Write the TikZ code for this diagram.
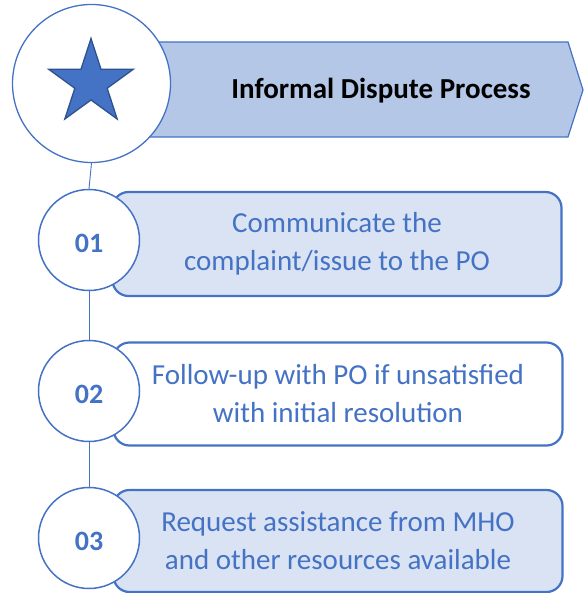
\documentclass[tikz,border=0pt]{standalone}
\usepackage{fontspec}
\setmainfont{Carlito}
\usetikzlibrary{shapes.geometric}
\definecolor{obl}{HTML}{4472C4}
\definecolor{banfill}{HTML}{B4C7E7}
\definecolor{boxfill}{HTML}{DAE3F3}
\definecolor{stardark}{HTML}{2F528F}
\tikzset{
  banner/.style={fill=banfill, draw=obl, line width=1.2pt},
  stepbox/.style={draw=obl, line width=2.2pt, rounded corners=16pt, minimum width=449pt,
    minimum height=103pt, inner sep=0pt, align=center, text=obl,
    font=\fontsize{29}{38}\selectfont},
  bigcirc/.style={circle, draw=obl, fill=white, line width=1.3pt, minimum size=158pt, inner sep=0pt},
  smallcirc/.style={circle, draw=obl, fill=white, line width=1.5pt, minimum size=101pt, inner sep=0pt},
  numtext/.style={text=obl, font=\bfseries\fontsize{28}{30}\selectfont, inner sep=0pt},
  link/.style={draw=obl, line width=0.9pt}
}
\begin{document}
\begin{tikzpicture}[x=1pt,y=-1pt]
\useasboundingbox (0,0) rectangle (584,593);
% banner
\draw[banner] (140,42) -- (568,42) -- (583,90) -- (568,137) -- (140,137) -- cycle;
\node[font=\bfseries\fontsize{29}{34}\selectfont, text=black] (title) at (381,91) {Informal Dispute Process};
% step boxes
\node[stepbox, fill=boxfill, minimum height=104pt] (b1) at (337,244) {Communicate the\\complaint/issue to the PO};
\node[stepbox, fill=white] (b2) at (338,394) {Follow-up with PO if unsatisfied\\with initial resolution};
\node[stepbox, fill=boxfill, minimum height=102pt] (b3) at (338,541) {Request assistance from MHO\\and other resources available};
% circles
\node[bigcirc] (c0) at (91.5,83.5) {};
\node[star, star points=5, star point ratio=2.618, minimum size=89pt, inner sep=0pt,
      fill=obl, draw=stardark, line width=1.3pt] (st) at (91,83) {};
\node[smallcirc] (c1) at (89,240) {};
\node[smallcirc] (c2) at (89,391) {};
\node[smallcirc] (c3) at (89,538) {};
\node[numtext] (n1) at (89,243) {01};
\node[numtext] (n2) at (89,394) {02};
\node[numtext] (n3) at (89,541) {03};
% connectors
\draw[link] (c0.south) -- (c1.north);
\draw[link] (c1.south) -- (c2.north);
\draw[link] (c2.south) -- (c3.north);
\end{tikzpicture}
\end{document}
